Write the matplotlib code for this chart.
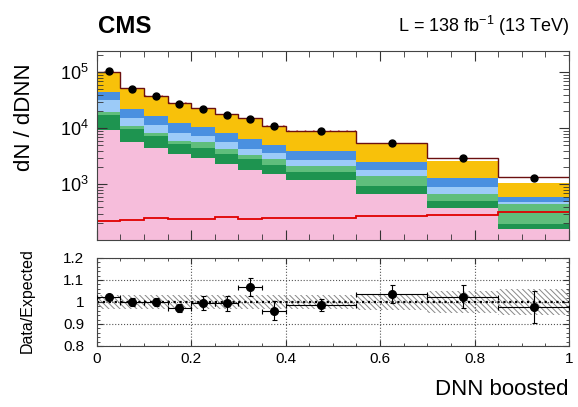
import matplotlib
matplotlib.use('Agg')
import matplotlib.pyplot as plt
import numpy as np
from matplotlib.ticker import MultipleLocator, FixedLocator, LogLocator, NullFormatter

plt.rcParams['font.family'] = ['Liberation Sans', 'DejaVu Sans']
plt.rcParams['mathtext.fontset'] = 'custom'
plt.rcParams['mathtext.rm'] = 'Liberation Sans'
plt.rcParams['mathtext.it'] = 'Liberation Sans:italic'
plt.rcParams['mathtext.bf'] = 'Liberation Sans:bold'
plt.rcParams['hatch.linewidth'] = 0.7

# bin edges of the DNN boosted score
edges = np.array([0, 0.05, 0.1, 0.15, 0.2, 0.25, 0.3, 0.35, 0.4, 0.55, 0.7, 0.85, 1.0])

# stacked backgrounds, bottom to top
pink = [9330, 5620, 4390, 3480, 2910, 2300, 1800, 1510, 1180, 679, 382, 161]
dgreen = [7950, 4220, 2900, 1770, 1480, 1180, 990, 700, 500, 265, 122, 34]
lgreen = [2500, 1150, 1050, 760, 1230, 740, 510, 580, 440, 481, 167, 250]
lblue = [12220, 4100, 3110, 2330, 1670, 1400, 970, 870, 630, 375, 235, 44]
blue = [13080, 6740, 5130, 3940, 3130, 2520, 2090, 1430, 1180, 730, 374, 112]
yellow = [54920, 29100, 21160, 15670, 11970, 9360, 8470, 5900, 5030, 2650, 1360, 441]

total = [101500, 51500, 38000, 28200, 22600, 17700, 15000, 11100, 9100, 5400, 2910, 1334]
data = [104000, 51000, 37700, 27700, 22100, 17500, 14800, 10800, 8850, 5400, 2940, 1296]
signal = [224, 233, 253, 243, 243, 258, 240, 250, 253, 272, 283, 316]

# ratio panel
ratio = [1.021, 1.000, 1.000, 0.974, 0.997, 0.994, 1.067, 0.960, 0.985, 1.036, 1.024, 0.976]
ratio_err = [0.012, 0.016, 0.016, 0.019, 0.032, 0.035, 0.040, 0.043, 0.028, 0.042, 0.052, 0.073]
band_unc = [0.03, 0.03, 0.03, 0.03, 0.03, 0.03, 0.03, 0.03, 0.03, 0.038, 0.05, 0.06]

centers = 0.5 * (edges[1:] + edges[:-1])
halfw = 0.5 * (edges[1:] - edges[:-1])

fig = plt.figure(figsize=(5.78, 4.07), dpi=100)
ax = fig.add_axes([0.1673, 0.4103, 0.8171, 0.4651])
rax = fig.add_axes([0.1673, 0.1499, 0.8171, 0.2162])

layers = [(pink, '#f6bddb'), (dgreen, '#1e9450'), (lgreen, '#5fbe7c'),
          (lblue, '#9ccbf8'), (blue, '#4a90e0'), (yellow, '#f8c10a')]
base = np.full(len(centers), 1.0)
for vals, col in layers:
    top = base + np.array(vals)
    ax.stairs(top, edges, baseline=base, fill=True, color=col, lw=0)
    base = top

tot = np.array(total)
ax.stairs(tot * 1.03, edges, baseline=tot * 0.97, fill=True, facecolor='none',
          edgecolor='#e07070', hatch='\\\\\\\\', lw=0)
ax.stairs(tot, edges, baseline=None, color='#6b1010', lw=1.0)
ax.stairs(signal, edges, baseline=None, color='#e00000', lw=1.3)
ax.plot(centers, data, 'o', color='k', ms=5, zorder=5)

ax.set_yscale('log')
ax.set_xlim(0, 1)
ax.set_ylim(101, 2.43e5)
ax.xaxis.set_major_locator(MultipleLocator(0.2))
ax.xaxis.set_minor_locator(MultipleLocator(0.05))
ax.xaxis.set_major_formatter(NullFormatter())
ax.yaxis.set_major_locator(FixedLocator([1e3, 1e4, 1e5]))
ax.yaxis.set_minor_locator(LogLocator(base=10, subs=np.arange(2, 10)))
ax.yaxis.set_minor_formatter(NullFormatter())
ax.set_yticklabels(['$10^{3}$', '$10^{4}$', '$10^{5}$'])
ax.tick_params(which='both', direction='in', top=True, right=True, labelsize=13, pad=6, color='#333333')
ax.tick_params(which='major', length=7.5)
ax.tick_params(which='minor', length=4)
for s in ax.spines.values():
    s.set_color('#444444')

# ratio
unc = np.array(band_unc)
rax.stairs(1 + unc, edges, baseline=1 - unc, fill=True, facecolor='none',
           edgecolor='#888888', hatch='\\\\\\\\\\\\', lw=0)
rax.grid(True, which='major', ls=':', color='#555555', lw=0.8)
rax.axhline(1, color='k', ls=':', lw=1.6)
rax.errorbar(centers, ratio, xerr=halfw, yerr=ratio_err, fmt='o', color='k',
             ms=5.5, elinewidth=0.8, capsize=1.8, capthick=0.8, zorder=5)
rax.set_xlim(0, 1)
rax.set_ylim(0.8, 1.2)
rax.xaxis.set_minor_locator(MultipleLocator(0.05))
rax.yaxis.set_minor_locator(MultipleLocator(0.02))
rax.xaxis.set_major_locator(FixedLocator([0, 0.2, 0.4, 0.6, 0.8, 1]))
rax.set_xticklabels(['%g' % v for v in [0, 0.2, 0.4, 0.6, 0.8, 1]])
rax.yaxis.set_major_locator(FixedLocator([0.8, 0.9, 1.0, 1.1, 1.2]))
rax.set_yticklabels(['0.8', '0.9', '1', '1.1', '1.2'])
rax.tick_params(which='both', direction='in', top=True, right=True, labelsize=11, color='#333333')
rax.tick_params(axis='y', pad=9)
rax.tick_params(axis='x', pad=4)
rax.tick_params(which='major', length=4.5)
rax.tick_params(which='minor', length=2.5)
for s in rax.spines.values():
    s.set_color('#444444')

fig.text(0.170, 0.918, 'CMS', fontsize=17.3, fontweight='bold', ha='left', va='baseline')
fig.text(0.986, 0.922, 'L = 138 fb$^{-1}$ (13 TeV)', fontsize=13, ha='right', va='baseline')
fig.text(0.043, 0.711, 'dN / dDNN', fontsize=16, rotation=90, ha='center', va='center')
fig.text(0.048, 0.262, 'Data/Expected', fontsize=11.5, rotation=90, ha='center', va='center')
fig.text(0.983, 0.044, 'DNN boosted', fontsize=16, ha='right', va='center')

fig.savefig('out.png', dpi=100)
